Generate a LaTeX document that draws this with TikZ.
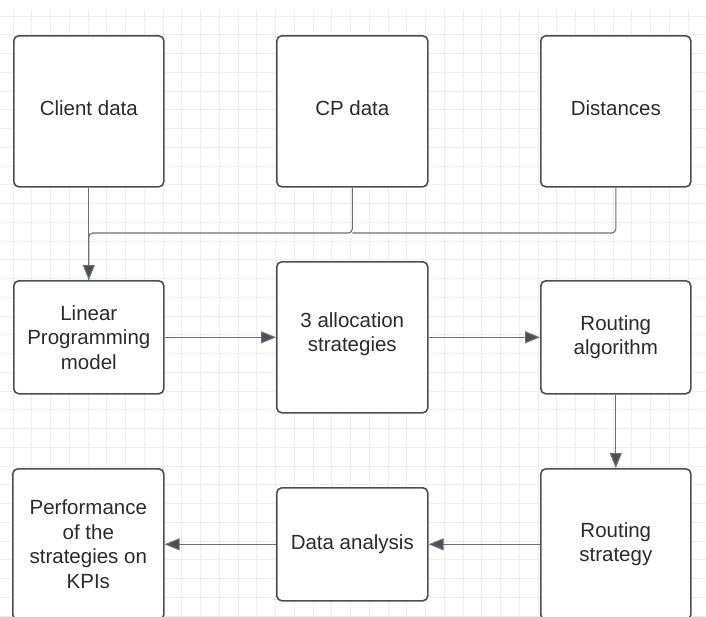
\documentclass[tikz,border=0pt]{standalone}
\usepackage{fontspec}
\setmainfont{Liberation Sans}
\usetikzlibrary{arrows.meta}
\definecolor{gridc}{HTML}{EDEDED}
\definecolor{boxc}{HTML}{4A4F57}
\definecolor{linec}{HTML}{6A6F77}
\definecolor{txt}{HTML}{2B2B2B}
\newcommand{\upby}[1]{\raisebox{3pt}[\height][\depth]{#1}}
\begin{document}
\begin{tikzpicture}[x=1pt,y=-1pt,
  box/.style={draw=boxc, line width=1.6pt, rounded corners=5pt, fill=white,
    align=center, text=txt, font=\fontsize{20.5}{24.5}\selectfont,
    inner sep=0pt, anchor=north west},
  plain/.style={draw=linec, line width=1.1pt, rounded corners=4pt},
  conn/.style={plain, -{Triangle[length=15pt,width=12pt,fill=boxc]}}
]
\clip (0,0) rectangle (706,616);
\fill[white] (0,0) rectangle (706,616);
% grid
\foreach \i in {0,...,37} {
  \draw[gridc, line width=0.8pt] ({13+18.75*\i},10) -- ({13+18.75*\i},616);
}
\foreach \j in {0,...,32} {
  \draw[gridc, line width=0.8pt] (0,{16+18.75*\j}) -- (706,{16+18.75*\j});
}
% boxes
\node[box, minimum width=150pt, minimum height=151pt] (client) at (13,35) {\upby{Client data}};
\node[box, minimum width=151pt, minimum height=151pt] (cp) at (276,35) {\upby{CP data}};
\node[box, minimum width=150pt, minimum height=151pt] (dist) at (540,35) {\upby{Distances}};
\node[box, minimum width=150pt, minimum height=113pt] (lp) at (13,280) {Linear\\Programming\\model};
\node[box, minimum width=151pt, minimum height=151pt] (alloc) at (276,261) {\upby{3 allocation}\\\upby{strategies}};
\node[box, minimum width=150pt, minimum height=113pt] (ralg) at (540,280) {Routing\\algorithm};
\node[box, minimum width=151pt, minimum height=151pt] (perf) at (12,468) {Performance\\of the\\strategies on\\KPIs};
\node[box, minimum width=151pt, minimum height=113pt] (da) at (276,487) {Data analysis};
\node[box, minimum width=150pt, minimum height=151pt] (rstrat) at (540,468) {Routing\\strategy};
% connectors
\coordinate (bus) at (0,233);
\draw[plain] (dist.south) -- (dist.south |- bus) -- (bus -| cp.south);
\draw[plain] (cp.south) -- (cp.south |- bus) -- (bus -| client.south) -- (lp.north);
\draw[conn] (client.south) -- (lp.north);
\draw[conn] (lp.east) -- (alloc.west);
\draw[conn] (alloc.east) -- (ralg.west);
\draw[conn] (ralg.south) -- (rstrat.north);
\draw[conn] (rstrat.west) -- (da.east);
\draw[conn] (da.west) -- (perf.east);
\end{tikzpicture}
\end{document}
